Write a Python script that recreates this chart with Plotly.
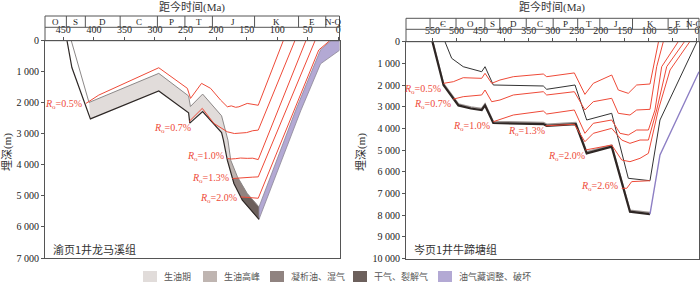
import plotly.graph_objects as go

W, H = 700, 283

# ---------------- data ----------------
LEFT_PERIOD_EDGES = [480, 445, 414, 357, 296, 251, 206, 137, 65, 20.5, -2]
LEFT_PERIOD_NAMES = ['O', 'S', 'D', 'C', 'P', 'T', 'J', 'K', 'E', 'N-Q']
RIGHT_PERIOD_EDGES = [605, 555, 501, 441, 410, 355, 299, 248, 202, 134, 60, 18, -4.2]
RIGHT_PERIOD_NAMES = ['', 'Є', 'O', 'S', 'D', 'C', 'P', 'T', 'J', 'K', 'E', 'N-Q']

LEFT_XTICKS = [450, 400, 350, 300, 250, 200, 150, 100, 50, 0]
RIGHT_XTICKS = [550, 500, 450, 400, 350, 300, 250, 200, 150, 100, 50, 0]
LEFT_YTICKS = [0, 1000, 2000, 3000, 4000, 5000, 6000, 7000]
RIGHT_YTICKS = [0, 1000, 2000, 3000, 4000, 5000, 6000, 7000, 8000, 9000, 10000]

# 渝页1井 龙马溪组: top and base burial curves (Ma, m)
LT_T = [437, 408, 293.8, 245, 242, 222, 191, 180.6, 176, 165, 149, 129.8, 69.7, 29, 12, -2]
LT_D = [0, 1990, 1052, 1780, 2120, 1720, 2420, 3203, 3850, 4387, 4923, 5355, 2240, 290, 0, 0]
LB_T = [444, 436, 405.7, 293.8, 245, 243, 222, 191, 188, 181.6, 170.8, 157, 129.8, 61.5, 29, -2]
LB_D = [0, 865, 2520, 1618, 2320, 2655, 2280, 2960, 3203, 3850, 4600, 5140, 5755, 2260, 745, 310]
LEFT_TIP = 129.8
LEFT_FILL_TOP_FROM = 1
LEFT_FILL_BASE_FROM = 2
LEFT_STAGE_DEPTHS = [3810, 4420, 5050]   # Ro 1.0, 1.3, 2.0

# Ro isolines, left
L_RO = {
    '0.5': ([413, 392, 293.8, 247, 241.8, 223.8, 209, 192.6, 181.6, 175, 168, 162.6, 149, 140, 131, 90],
            [2020, 1752, 871, 1535, 1858, 1374, 1535, 1913, 2129, 2100, 2145, 2129, 2020, 2050, 2080, 0]),
    '0.7': ([244, 222.6, 203.6, 181.6, 170, 160, 150, 140, 131, 71],
            [2600, 2180, 2665, 2935, 2990, 2975, 2960, 2900, 2880, 0]),
    '1.0': ([181.6, 175, 168, 160, 149, 140, 131, 53],
            [3795, 3810, 3800, 3780, 3790, 3785, 3830, 0]),
    '1.3': ([173.4, 165, 158, 150, 140, 131, 38],
            [4440, 4425, 4410, 4400, 4395, 4387, 0]),
    '2.0': ([160, 152, 145, 138, 131, 32, 14],
            [5032, 5040, 5050, 5060, 5075, 300, 0]),
}
L_RO_LABEL_POS = {'0.5': (415.6, 2042), '0.7': (238.5, 2816), '1.0': (184.4, 3719),
                  '1.3': (176, 4439), '2.0': (163, 5084)}

# 岑页1井 牛蹄塘组
R_THICK_T = [550, 538, 527, 496, 470, 447.6, 440.7, 423.5, 319.5, 312.5, 252, 229.3, 177.3, 139.3, 97.7]
R_THICK_D = [0, 998, 2000, 2940, 3080, 3150, 2940, 3750, 3800, 3880, 3800, 5148, 4843, 7841, 7950]
R_UPLIFT_T = [97.7, 76.9, -4.2]
R_UPLIFT_D = [7950, 5226, 1384]
R_BLACK_T = [524, 510, 486, 447.6, 440.7, 423.5, 319.5, 312.5, 253.6, 229.3, 177.3, 142.8, 97.7, 76.9, 0]
R_BLACK_D = [0, 766, 1153, 1384, 1153, 1997, 2043, 2196, 1997, 3612, 3303, 6301, 6411, 3611, 0]

R_RO = {
    '0.5': ([527, 506.6, 486, 447.6, 440.7, 426.8, 409.6, 381.9, 319.5, 312.5, 255, 233, 215.6, 177.3, 163.6, 142.8, 125.4, 97.7, 80],
            [1920, 1845, 1660, 1690, 1459, 1920, 1767, 1614, 1490, 1614, 1440, 2430, 1920, 1536, 2228, 2382, 1997, 1951, 0]),
    '0.7': ([507, 486, 447.6, 440.7, 426.8, 409.6, 381.9, 319.5, 312.5, 255, 233, 215.6, 177.3, 163.6, 139.3, 125.4, 97.7, 83.8, 70],
            [2650, 2536, 2458, 2228, 2767, 2689, 2458, 2306, 2458, 2306, 3150, 2767, 2611, 3303, 3381, 3150, 3120, 1153, 0]),
    '1.0': ([423.5, 381.9, 319.5, 312.5, 255, 233, 215.6, 177.3, 160, 142.8, 125.4, 101, 87.3, 73.4, 39],
            [3690, 3381, 3196, 3335, 3150, 4226, 3764, 3611, 4226, 4304, 4073, 4073, 3150, 1153, 0]),
    '1.3': ([315, 255, 233, 215.6, 177.3, 156.5, 139.3, 118.5, 101, 83.8, 63, 26],
            [3880, 3810, 4612, 4226, 3997, 4535, 4688, 4535, 4535, 3150, 1153, 0]),
    '2.0': ([232, 177.3, 156.5, 139.3, 118.5, 101, 80.4, 56, 15],
            [4995, 4765, 5457, 5534, 5380, 5150, 3150, 1305, 0]),
    '2.6': ([156.5, 146, 135.8, 97.7],
            [6762, 6762, 6455, 6411]),
}
R_RO_LABEL_POS = {'0.5': (528, 2182), '0.7': (507, 2874), '1.0': (426, 3921),
                  '1.3': (312, 4119), '2.0': (228.7, 5318), '2.6': (160, 6656)}

STAGE_NAMES = ['生油期', '生油高峰', '凝析油、湿气', '干气、裂解气', '油气藏调整、破坏']
STAGE_COLORS = ['#e1dcda', '#bfb5b1', '#908380', '#6c605c', '#b3a9d4']

RED = '#ee4a38'
SERIF = 'Liberation Serif, Noto Sans CJK SC'
CJK = 'Noto Sans CJK SC'


def px(v):
    return v / W


def py(v):
    return 1 - v / H


# ---------------- helpers ----------------
def clip_deeper(poly, D):
    out = []
    n = len(poly)
    for i in range(n):
        cur = poly[i]
        prev = poly[i - 1]
        cin = cur[1] >= D
        pin = prev[1] >= D
        if cin != pin:
            f = (D - prev[1]) / (cur[1] - prev[1])
            out.append((prev[0] + f * (cur[0] - prev[0]), D))
        if cin:
            out.append(cur)
    return out


fig = go.Figure()


def add_poly(poly, color, xa, ya, line=None):
    xs = [p[0] for p in poly] + [poly[0][0]]
    ys = [p[1] for p in poly] + [poly[0][1]]
    fig.add_trace(go.Scatter(x=xs, y=ys, xaxis=xa, yaxis=ya, mode='lines', fill='toself',
                             fillcolor=color,
                             line=dict(width=line[1] if line else 0, color=line[0] if line else color),
                             hoverinfo='skip', showlegend=False))


def add_line(xs, ys, color, width, xa, ya):
    fig.add_trace(go.Scatter(x=xs, y=ys, xaxis=xa, yaxis=ya, mode='lines',
                             line=dict(color=color, width=width), hoverinfo='skip', showlegend=False))


# ---------------- left panel band ----------------
it = LT_T.index(LEFT_TIP)
ib = LB_T.index(LEFT_TIP)
top_pre = list(zip(LT_T[LEFT_FILL_TOP_FROM:it + 1], LT_D[LEFT_FILL_TOP_FROM:it + 1]))
base_pre = list(zip(LB_T[LEFT_FILL_BASE_FROM:ib + 1], LB_D[LEFT_FILL_BASE_FROM:ib + 1]))
band_pre = top_pre + base_pre[::-1]
add_poly(band_pre, STAGE_COLORS[0], 'x', 'y')
for D, col in zip(LEFT_STAGE_DEPTHS, STAGE_COLORS[1:4]):
    cp = clip_deeper(band_pre, D)
    if len(cp) > 2:
        add_poly(cp, col, 'x', 'y')
top_post = list(zip(LT_T[it:], LT_D[it:]))
base_post = list(zip(LB_T[ib:], LB_D[ib:]))
add_poly(top_post + base_post[::-1], STAGE_COLORS[4], 'x', 'y', line=('#8a8494', 0.8))

# edges
add_line(LT_T[:it + 1], LT_D[:it + 1], '#8c8888', 1, 'x', 'y')
add_line(LB_T[:ib + 1], LB_D[:ib + 1], '#2e2826', 1.2, 'x', 'y')

for k, (ts, ds) in L_RO.items():
    add_line(ts, ds, RED, 1, 'x', 'y')

# ---------------- right panel ----------------
add_line(R_THICK_T, [d - 70 for d in R_THICK_D], '#a09896', 1.6, 'x2', 'y2')
add_line(R_THICK_T, R_THICK_D, '#2e2624', 2.2, 'x2', 'y2')
add_line(R_BLACK_T, R_BLACK_D, '#333333', 1, 'x2', 'y2')
add_line(R_UPLIFT_T, R_UPLIFT_D, '#8d7fc4', 1.4, 'x2', 'y2')
for k, (ts, ds) in R_RO.items():
    add_line(ts, ds, RED, 1, 'x2', 'y2')

annotations = []
for k, (t, d) in L_RO_LABEL_POS.items():
    annotations.append(dict(x=t, y=d, xref='x', yref='y', xanchor='right', yanchor='middle',
                            text='<i>R</i><sub>o</sub>=' + k + '%', showarrow=False,
                            font=dict(family=SERIF, size=10, color=RED)))
for k, (t, d) in R_RO_LABEL_POS.items():
    annotations.append(dict(x=t, y=d, xref='x2', yref='y2', xanchor='right', yanchor='middle',
                            text='<i>R</i><sub>o</sub>=' + k + '%', showarrow=False,
                            font=dict(family=SERIF, size=10, color=RED)))

# ---------------- period boxes ----------------
shapes = []
FRAME = '#555555'


def period_box(xref, edges, names, top, mid, bottom):
    shapes.append(dict(type='rect', xref=xref + ' domain', yref='paper', x0=0, x1=1,
                       y0=py(bottom), y1=py(top), line=dict(color=FRAME, width=1)))
    shapes.append(dict(type='line', xref=xref + ' domain', yref='paper', x0=0, x1=1,
                       y0=py(mid), y1=py(mid), line=dict(color=FRAME, width=1)))
    for e in edges[1:-1]:
        shapes.append(dict(type='line', xref=xref, yref='paper', x0=e, x1=e,
                           y0=py(mid), y1=py(top), line=dict(color=FRAME, width=1)))
    for a, b, nm in zip(edges[:-1], edges[1:], names):
        if nm:
            annotations.append(dict(x=(a + b) / 2, y=py((top + mid) / 2), xref=xref, yref='paper',
                                    text=nm, showarrow=False, xanchor='center', yanchor='middle',
                                    font=dict(family=SERIF, size=9, color='#222')))


period_box('x', LEFT_PERIOD_EDGES, LEFT_PERIOD_NAMES, 16, 27.3, 40.7)
period_box('x2', RIGHT_PERIOD_EDGES, RIGHT_PERIOD_NAMES, 18.3, 29.3, 41.7)

# titles
def ann(x, y, text, size, family, xanchor='center', angle=0, color='#333'):
    annotations.append(dict(x=px(x), y=py(y), xref='paper', yref='paper', text=text,
                            xanchor=xanchor, yanchor='middle', textangle=angle, showarrow=False,
                            font=dict(family=family, size=size, color=color)))


ann(192, 7, '距今时间(Ma)', 11, SERIF)
ann(552, 7, '距今时间(Ma)', 11, SERIF)
ann(7, 152, '埋深(m)', 11, SERIF, angle=-90)
ann(361, 152, '埋深(m)', 11, SERIF, angle=-90)
ann(51, 249, '渝页1井龙马溪组', 11, CJK, xanchor='left')
ann(412, 249, '岑页1井牛蹄塘组', 11, CJK, xanchor='left')

# legend
LEG_X = [143, 203, 270, 353, 438]
for xx, nm, col in zip(LEG_X, STAGE_NAMES, STAGE_COLORS):
    shapes.append(dict(type='rect', xref='paper', yref='paper', x0=px(xx), x1=px(xx + 14),
                       y0=py(282), y1=py(271), fillcolor=col, line=dict(width=0)))
    ann(xx + 19, 276.5, nm, 9, CJK, xanchor='left', color='#555')


def fmt(v):
    return f'{v:,}'.replace(',', ' ')


axis_common = dict(showline=True, mirror=True, linecolor=FRAME, linewidth=1, showgrid=False,
                   zeroline=False, ticks='outside', ticklen=3, tickcolor=FRAME, automargin=False,
                   tickfont=dict(family=SERIF, size=10, color='#222'))

fig.update_layout(
    width=W, height=H, margin=dict(l=0, r=0, t=0, b=0, autoexpand=False),
    paper_bgcolor='white', plot_bgcolor='white', showlegend=False,
    xaxis=dict(domain=[px(45), px(339.5)], range=[480, -2], side='top', anchor='y',
               tickvals=LEFT_XTICKS, ticktext=[str(v) for v in LEFT_XTICKS], **axis_common),
    yaxis=dict(domain=[py(258), py(40.7)], range=[7000, 0], anchor='x',
               tickvals=LEFT_YTICKS, ticktext=[fmt(v) for v in LEFT_YTICKS], **axis_common),
    xaxis2=dict(domain=[px(406), px(699)], range=[605, -4.2], side='top', anchor='y2',
                tickvals=RIGHT_XTICKS, ticktext=[str(v) for v in RIGHT_XTICKS], **axis_common),
    yaxis2=dict(domain=[py(258.5), py(41.7)], range=[10000, 0], anchor='x2',
                tickvals=RIGHT_YTICKS, ticktext=[fmt(v) for v in RIGHT_YTICKS], **axis_common),
    shapes=shapes, annotations=annotations,
)

fig.write_html('out.html', config={'displayModeBar': False},
               post_script="document.body.style.margin='0px';document.body.style.overflow='hidden';")
